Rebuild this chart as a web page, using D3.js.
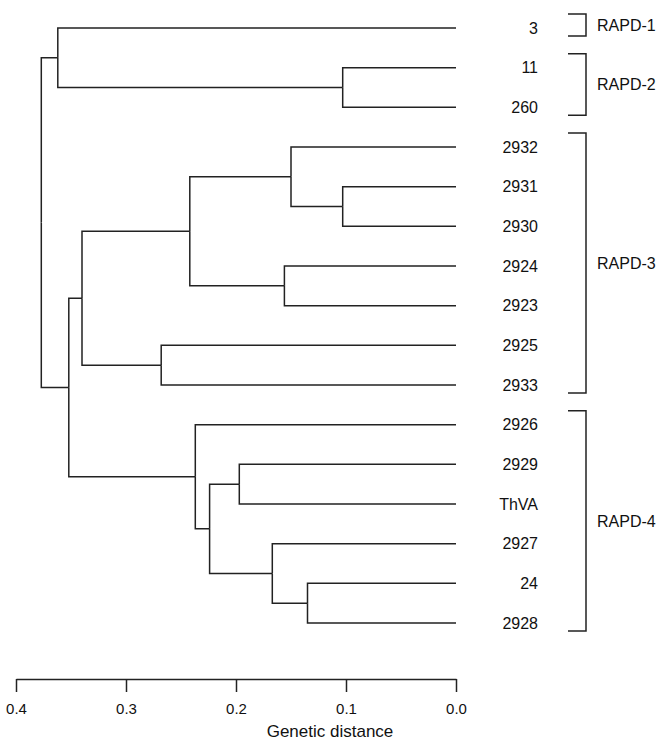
<!DOCTYPE html>
<html>
<head>
<meta charset="utf-8">
<script src="https://cdn.jsdelivr.net/npm/d3@7"></script>
<style>
  body { margin: 0; background: #fff; }
  svg { display: block; font-family: "Liberation Sans", Arial, Helvetica, sans-serif; }
  .link { fill: none; stroke: #222; stroke-width: 1.5; }
  .axis path, .axis line { stroke: #222; stroke-width: 1.5; }
</style>
</head>
<body>
<svg width="658" height="742"></svg>
<script>
// leaves, top to bottom
const leaves = ["3", "11", "260", "2932", "2931", "2930", "2924", "2923",
  "2925", "2933", "2926", "2929", "ThVA", "2927", "24", "2928"];

// merges: [child a, child b, genetic distance]; "#n" refers to merge n
const merges = [
  ["11", "260", 0.103],   // #0
  ["3", "#0", 0.362],     // #1
  ["2931", "2930", 0.103],// #2
  ["2932", "#2", 0.150],  // #3
  ["2924", "2923", 0.156],// #4
  ["#3", "#4", 0.242],    // #5
  ["2925", "2933", 0.268],// #6
  ["#5", "#6", 0.340],    // #7
  ["24", "2928", 0.135],  // #8
  ["2927", "#8", 0.167],  // #9
  ["2929", "ThVA", 0.197],// #10
  ["#10", "#9", 0.224],   // #11
  ["2926", "#11", 0.237], // #12
  ["#7", "#12", 0.352],   // #13
  ["#1", "#13", 0.377]    // #14
];

const groupNames = ["RAPD-1", "RAPD-2", "RAPD-3", "RAPD-4"];
const groupFirst = ["3", "11", "2932", "2926"];
const groupLast = ["3", "260", "2933", "2928"];

const ticks = [0.4, 0.3, 0.2, 0.1, 0.0];

const svg = d3.select("svg");

const x = d3.scaleLinear().domain([0.4, 0]).range([16, 456]);
const y = d3.scalePoint().domain(leaves).range([28, 623]);

// build nested tree from the merge list
function build(id) {
  if (id[0] === "#") {
    const m = merges[+id.slice(1)];
    return { name: id, h: m[2], children: [build(m[0]), build(m[1])] };
  }
  return { name: id, h: 0 };
}
const root = d3.hierarchy(build("#" + (merges.length - 1)));

root.eachAfter(function(d) {
  if (d.children) {
    d.py = d3.mean(d.children, c => c.py);
  } else {
    d.py = y(d.data.name);
  }
  d.px = x(d.data.h);
});

svg.append("g")
  .selectAll("path")
  .data(root.links())
  .enter()
  .append("path")
  .attr("class", "link")
  .attr("d", function(l) {
    return "M" + l.source.px + "," + l.source.py +
      "V" + l.target.py + "H" + l.target.px;
  });

// leaf labels
svg.append("g")
  .selectAll("text")
  .data(leaves)
  .enter()
  .append("text")
  .attr("x", 538)
  .attr("y", d => y(d))
  .attr("dy", "0.36em")
  .attr("text-anchor", "end")
  .attr("font-size", 16)
  .attr("fill", "#111")
  .text(d => d);

// group brackets
const gb = svg.append("g");
groupNames.forEach(function(name, i) {
  const y0 = y(groupFirst[i]) - 14;
  const y1 = y(groupLast[i]) + 8;
  gb.append("path")
    .attr("class", "link")
    .attr("d", "M568," + y0 + "H586V" + y1 + "H568");
  gb.append("text")
    .attr("x", 597)
    .attr("y", (y0 + y1) / 2)
    .attr("dy", "0.36em")
    .attr("font-size", 16)
    .attr("fill", "#111")
    .text(name);
});

// axis
const axis = svg.append("g")
  .attr("class", "axis")
  .attr("transform", "translate(0,679)")
  .call(d3.axisBottom(x).tickValues(ticks).tickFormat(d3.format(".1f"))
    .tickSize(13).tickSizeOuter(0).tickPadding(11));
axis.selectAll("text")
  .attr("font-size", 15)
  .attr("font-family", "Liberation Sans, Arial, sans-serif")
  .attr("fill", "#111");

svg.append("text")
  .attr("x", 330)
  .attr("y", 737)
  .attr("text-anchor", "middle")
  .attr("font-size", 17)
  .attr("fill", "#111")
  .text("Genetic distance");
</script>
</body>
</html>
